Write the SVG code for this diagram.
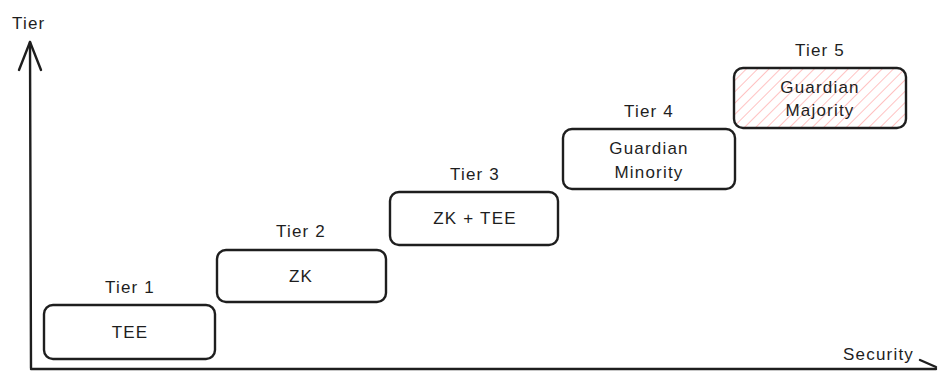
<svg xmlns="http://www.w3.org/2000/svg" width="939" height="373" viewBox="0 0 939 373">
  <defs>
    <pattern id="hatch" patternUnits="userSpaceOnUse" width="8" height="8" patternTransform="rotate(45)">
      <line x1="0" y1="0" x2="0" y2="8" stroke="#ffb3b3" stroke-width="1.6"/>
    </pattern>
    <style>
      .box { fill: none; stroke: #1e1e1e; stroke-width: 2.4; }
      .axis { fill: none; stroke: #1e1e1e; stroke-width: 2.4; stroke-linecap: round; stroke-linejoin: round; }
      .lbl { font-family: "Liberation Sans", Arial, sans-serif; font-size: 17px; fill: #1e1e1e; text-anchor: middle; dominant-baseline: central; letter-spacing: 1.2px; }
      .axlbl { font-family: "Liberation Sans", Arial, sans-serif; font-size: 17px; fill: #1e1e1e; dominant-baseline: central; letter-spacing: 1.2px; }
    </style>
  </defs>
  <rect width="939" height="373" fill="#ffffff"/>

  <!-- axes -->
  <g id="connectors">
    <path class="axis" d="M31 368 L30 42"/>
    <path class="axis" d="M19 70 L30 42 L41 70"/>
    <path class="axis" d="M31 369 L936 369"/>
    <path class="axis" d="M920 360 L936 367"/>
  </g>

  <g id="axis-labels">
    <text class="axlbl" x="12" y="23">Tier</text>
    <text class="axlbl" x="843" y="354">Security</text>
  </g>

  <g id="tier1">
    <rect class="box" x="44" y="305" width="171" height="54" rx="9"/>
    <text class="lbl" x="130" y="287">Tier 1</text>
    <text class="lbl" x="130" y="332">TEE</text>
  </g>

  <g id="tier2">
    <rect class="box" x="217" y="250" width="169" height="52" rx="9"/>
    <text class="lbl" x="301" y="231">Tier 2</text>
    <text class="lbl" x="301" y="276">ZK</text>
  </g>

  <g id="tier3">
    <rect class="box" x="390" y="192" width="168" height="53" rx="9"/>
    <text class="lbl" x="475" y="174">Tier 3</text>
    <text class="lbl" x="475" y="218">ZK + TEE</text>
  </g>

  <g id="tier4">
    <rect class="box" x="563" y="129" width="172" height="60" rx="9"/>
    <text class="lbl" x="649" y="111">Tier 4</text>
    <text class="lbl" x="649" y="148">Guardian</text>
    <text class="lbl" x="649" y="172">Minority</text>
  </g>

  <g id="tier5">
    <rect x="734" y="68" width="172" height="60" rx="9" fill="url(#hatch)"/>
    <rect class="box" x="734" y="68" width="172" height="60" rx="9"/>
    <text class="lbl" x="820" y="50">Tier 5</text>
    <text class="lbl" x="820" y="87">Guardian</text>
    <text class="lbl" x="820" y="110">Majority</text>
  </g>
</svg>
